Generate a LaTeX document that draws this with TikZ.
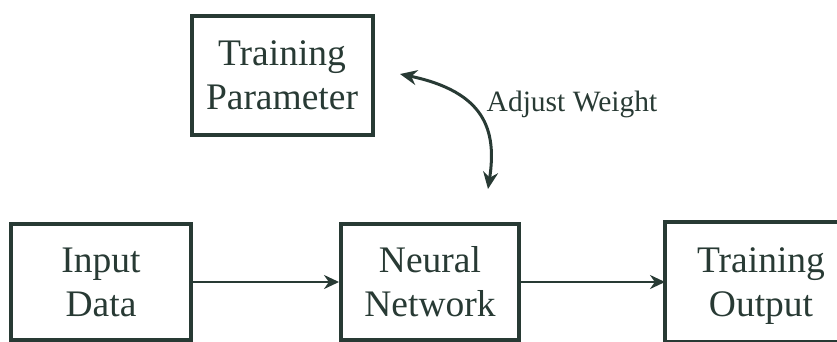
\documentclass[tikz,border=0pt]{standalone}
\usepackage{fontspec}
\setmainfont{Liberation Serif}
\usetikzlibrary{arrows.meta}
\definecolor{ink}{RGB}{40,58,52}
\begin{document}
\begin{tikzpicture}[x=1pt,y=-1pt,
  stagebox/.style={draw=ink, line width=4pt, text=ink, align=center,
    minimum width=180pt, minimum height=116pt, inner sep=0pt,
    font=\fontsize{37.5}{44}\selectfont},
  openbox/.style={draw=ink, line width=4pt},
  flow/.style={draw=ink, line width=2.5pt, -{Stealth[length=15pt,width=14pt]}},
  tune/.style={draw=ink, line width=3pt,
    {Stealth[length=17pt,width=15pt]}-{Stealth[length=17pt,width=15pt]}},
  note/.style={text=ink, font=\fontsize{29.5}{34}\selectfont, inner sep=0pt}]
  \useasboundingbox (0,0) rectangle (837,341);
  \begin{scope}
  \clip (0,0) rectangle (837,341);

  % training parameter block
  \node[stagebox, minimum width=181pt, minimum height=119pt] (param) at (282,75) {Training\\Parameter};

  % main processing chain
  \node[stagebox] (input) at (101,282) {Input\\Data};
  \node[stagebox, minimum width=178pt] (net) at (430,282) {Neural\\Network};
  % the output block runs past the right margin, so only three sides show
  \node[stagebox, draw=none, minimum width=170pt] (output) at (752,282) {};
  \node[text=ink, align=center, inner sep=0pt, font=\fontsize{37.5}{44}\selectfont]
    (outlabel) at (761,282) {Training\\\smash{Output}};
  \draw[openbox] (output.north east) -- (output.north west)
    -- (output.south west) -- (output.south east);

  \draw[flow] (input.east) -- (net.west);
  \draw[flow] (net.east) -- (output.west);

  % weight adjustment loop
  \coordinate (wtop) at (400,74);
  \coordinate (wbot) at (488,189);
  \draw[tune] (wtop) .. controls (485,92) and (497,130) .. (wbot);
  \node[note] (adjust) at (572,104) {Adjust Weight};
  \end{scope}
\end{tikzpicture}
\end{document}
